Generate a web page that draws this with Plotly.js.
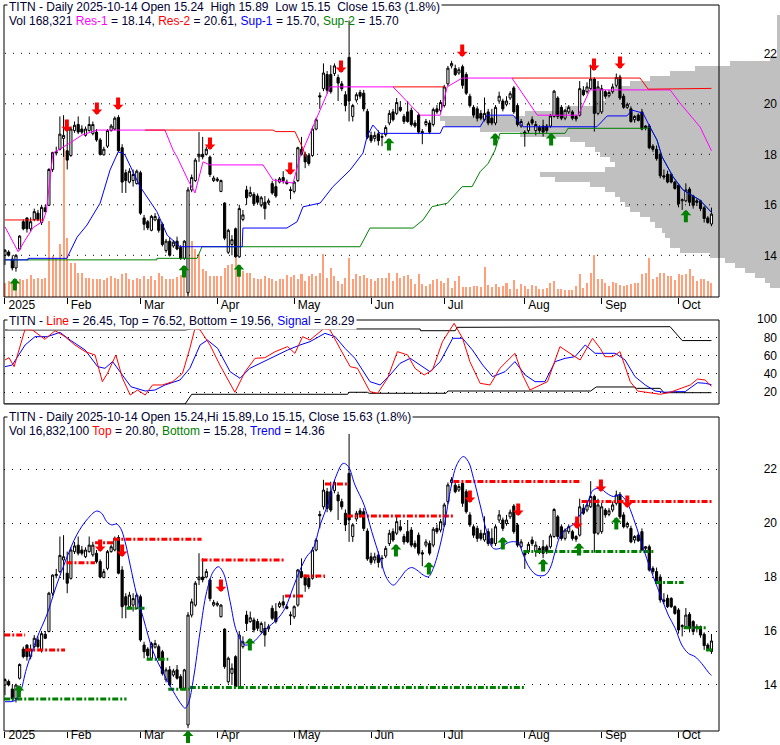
<!DOCTYPE html>
<html><head><meta charset="utf-8">
<script src="https://cdn.plot.ly/plotly-3.0.1.min.js"></script>
<style>html,body{margin:0;padding:0;background:#fff;}#chart{width:780px;height:745px;}</style>
</head><body><div id="chart"></div>
<script>
// ---------- DATA ----------
const monthTickIdx = [0,17,37,58,79,100,120,142,163,184];
const monthTickText = ['2025','Feb','Mar','Apr','May','Jun','Jul','Aug','Sep','Oct'];

const openP = [14.00,14.13,13.85,13.50,14.25,15.33,15.48,15.05,15.42,15.67,
15.30,15.88,15.98,17.40,18.05,18.20,18.63,18.14,17.95,18.94,
19.18,19.00,18.75,18.94,18.82,18.88,18.57,17.98,18.32,18.94,
19.00,19.46,18.26,17.27,16.90,16.96,16.84,17.27,15.48,15.33,
14.99,15.40,15.42,15.23,14.19,14.56,14.37,14.56,14.31,13.88,
12.52,16.59,16.96,17.90,18.00,18.00,17.89,16.96,16.96,16.53,
16.07,14.12,14.43,15.05,13.94,15.42,16.59,16.35,16.41,16.35,
15.98,16.10,16.08,16.84,16.72,16.90,17.08,16.90,16.60,16.53,
16.96,18.20,18.00,17.95,17.95,19.00,20.32,20.60,21.16,21.16,
21.20,21.04,20.79,20.36,21.84,19.50,20.15,20.45,20.42,19.70,
18.75,18.63,18.81,18.70,18.78,19.24,19.68,19.62,19.86,19.50,
19.68,19.74,19.24,19.55,18.90,19.18,19.24,19.18,19.80,19.74,
19.93,20.79,21.50,21.40,21.22,21.47,21.16,20.30,19.86,19.80,
19.62,19.37,19.68,19.43,19.24,20.11,20.11,19.98,20.23,20.63,
19.93,19.12,18.88,18.94,19.37,18.94,19.06,19.12,19.12,19.12,
19.50,20.23,19.86,19.43,19.68,19.68,19.50,19.55,20.54,20.48,
20.60,20.98,19.62,19.68,20.48,20.32,20.48,20.73,21.06,20.30,
19.86,19.80,19.37,19.55,19.68,19.06,19.12,18.32,18.20,18.00,
17.15,17.21,17.21,16.90,16.78,16.16,16.16,16.62,16.35,16.16,
16.16,15.88,15.48,15.24];
const highP = [14.25,14.20,14.00,14.05,14.80,15.42,15.50,15.50,15.85,15.80,
16.00,16.00,17.45,18.10,18.30,19.50,19.55,18.94,19.10,19.30,
19.50,19.15,19.10,19.50,19.30,19.00,18.65,18.30,19.00,19.20,
19.50,19.55,18.40,17.40,17.45,17.40,17.40,17.35,15.60,15.40,
15.60,15.67,15.50,15.30,14.65,14.70,14.60,14.74,14.40,14.60,
16.70,17.20,17.85,18.88,18.69,18.30,17.95,17.15,17.10,17.00,
16.10,15.05,14.80,15.10,16.00,15.80,16.75,16.72,16.50,16.45,
16.35,16.35,16.25,16.95,17.03,17.10,17.33,17.00,16.72,16.95,
18.30,18.69,18.10,18.05,19.10,19.45,20.45,21.60,21.30,21.53,
21.60,21.16,20.90,20.50,23.30,20.00,20.45,20.55,20.55,19.80,
18.90,18.90,18.95,18.81,19.15,19.75,19.80,20.23,20.11,19.60,
20.11,19.85,19.35,19.65,19.00,19.40,19.35,19.85,19.95,20.15,
20.75,21.50,21.70,21.55,21.45,21.55,21.25,20.40,19.95,19.90,
19.75,20.25,19.80,19.80,19.95,20.48,20.20,20.30,20.50,20.70,
20.00,19.40,18.95,19.30,19.50,19.32,19.15,19.37,19.20,19.60,
20.55,20.30,19.95,19.80,19.95,19.75,19.55,20.90,20.70,20.85,
21.55,21.05,20.90,20.75,20.55,20.55,20.80,21.20,21.15,20.40,
20.05,19.90,19.55,19.62,19.80,19.15,19.20,18.40,18.35,18.10,
17.40,17.35,17.25,16.95,16.85,16.25,16.85,16.70,16.40,16.25,
16.20,15.95,15.55,15.89];
const lowP = [13.62,13.95,13.40,13.35,14.20,14.99,14.90,14.95,15.35,15.35,
15.20,15.70,15.95,17.30,17.95,18.15,17.90,17.40,17.90,18.85,
18.80,18.80,18.70,18.90,18.75,18.50,17.95,17.95,18.25,18.90,
18.95,18.10,16.47,16.47,16.85,16.72,16.80,15.60,14.99,15.00,
14.95,15.35,14.90,14.35,14.10,13.95,14.30,14.20,13.82,13.82,
12.40,16.50,16.90,17.70,17.80,17.95,17.10,16.90,16.90,16.50,
14.60,14.05,14.00,13.90,13.90,15.35,16.00,16.30,15.95,16.00,
15.90,15.42,16.00,16.40,16.28,16.85,16.84,16.80,16.22,16.45,
16.90,17.95,17.45,17.55,17.90,18.95,19.80,20.50,20.40,20.40,
21.10,20.11,20.50,19.70,19.30,19.30,20.05,20.20,19.70,18.60,
18.45,18.50,18.35,18.32,18.70,19.15,19.30,19.55,19.68,19.20,
19.25,19.10,19.05,18.80,18.40,19.10,18.80,19.10,19.60,19.65,
19.85,20.70,21.40,21.10,21.15,20.60,20.35,19.85,19.45,19.30,
19.35,19.30,19.15,19.15,19.15,20.00,19.70,19.90,20.15,19.60,
19.10,19.05,18.30,18.85,19.15,18.75,18.85,18.70,18.85,19.05,
19.45,19.40,19.35,19.35,19.60,19.35,19.30,19.50,20.30,20.40,
20.55,18.90,19.55,19.60,20.20,20.25,20.40,20.65,20.15,19.80,
19.80,19.25,19.25,19.30,18.95,18.95,18.20,18.10,17.75,17.05,
17.00,16.85,16.85,16.60,15.90,15.80,16.10,15.95,15.85,15.95,
15.75,15.30,15.25,15.15];
const closeP = [14.20,14.00,13.50,14.00,14.76,15.05,15.05,15.33,15.73,15.42,
15.90,15.73,17.40,18.07,18.10,18.80,18.75,17.77,19.00,19.15,
18.88,18.88,19.00,19.18,19.18,18.57,18.00,18.20,18.94,19.12,
19.43,18.14,16.90,16.96,17.33,17.20,17.33,15.67,15.23,15.09,
15.54,15.54,14.99,14.43,14.56,14.00,14.52,14.25,13.88,14.56,
16.59,17.08,17.77,18.00,17.90,18.20,17.20,17.06,17.02,16.96,
14.68,14.99,14.62,13.94,15.85,15.60,16.28,16.49,16.04,16.10,
16.28,15.85,16.16,16.47,16.35,17.03,16.96,16.84,16.57,16.90,
18.26,18.00,17.70,17.64,19.00,19.37,20.27,21.22,20.54,20.48,
21.50,20.82,20.60,19.93,20.11,19.93,20.36,20.30,19.80,18.67,
18.54,18.75,18.54,18.68,19.06,19.62,19.37,20.05,19.74,19.30,
19.30,19.18,19.12,18.88,18.85,19.30,18.88,19.77,19.68,20.05,
20.67,21.41,21.60,21.16,21.35,20.73,20.42,19.93,19.55,19.43,
19.43,19.62,19.24,19.24,19.86,20.30,19.80,20.11,20.40,19.68,
19.18,19.30,18.82,19.21,19.24,19.18,18.94,18.88,18.94,19.52,
20.50,19.50,19.43,19.74,19.86,19.43,19.40,20.60,20.36,20.67,
20.98,19.62,20.67,20.60,20.30,20.45,20.67,21.04,20.23,19.86,
19.98,19.30,19.50,19.34,19.00,19.12,18.26,18.20,17.83,17.15,
17.10,16.90,16.90,16.65,16.04,16.20,16.59,16.10,15.98,16.10,
15.85,15.46,15.30,15.63];
const volumeK = [172,192,172,172,212,204,220,260,212,232,
212,232,912,492,472,632,1780,712,412,412,
284,292,232,232,212,212,212,204,232,252,
232,220,272,284,212,204,232,220,252,220,
252,204,284,252,212,212,220,240,260,252,
672,672,572,512,340,312,252,252,252,252,
352,380,392,472,352,312,292,284,232,220,
220,252,232,212,192,212,212,260,244,260,
220,272,192,252,272,252,284,512,232,352,
252,192,152,232,472,212,272,252,260,232,
220,192,232,232,232,292,192,284,232,252,
260,212,152,272,152,132,152,204,212,192,
172,224,112,192,252,124,124,124,132,132,
124,364,144,124,152,124,132,172,100,204,
92,152,132,100,140,132,100,100,112,172,
192,100,100,84,84,84,132,272,112,172,
284,500,220,212,172,132,184,164,140,132,
140,160,164,164,272,284,472,220,240,292,
284,252,252,204,272,260,272,332,252,192,
220,212,192,168];

// volume-at-price profile (top panel)
const profilePrice = [12.8,13.0,13.2,13.4,13.6,13.8,14.0,14.2,14.4,14.6,14.8,15.0,15.2,15.4,15.6,15.8,16.0,16.2,16.4,16.6,16.8,17.0,17.2,17.4,17.6,17.8,18.0,18.2,18.4,18.6,18.8,19.0,19.2,19.4,19.6,19.8,20.0,20.2,20.4,20.6,20.8,21.0,21.2,21.4,21.6,21.8,22.0,22.2,22.4,22.6,22.8,23.0,23.2,23.4];
const profileVol = [10,15,25,35,45,55,70,100,110,110,115,118,125,130,140,150,155,160,165,175,190,225,240,175,165,170,180,185,195,210,260,300,335,340,255,215,185,175,170,165,150,130,110,85,50,10,3,3,3,3,3,3,3,3];

// top panel support / resistance
const res1X = [0,3.6,5.5,7.7,10.4,11.3,12.2,13.1,17.8,21,25.1,43.7,45.9,47,50,51.9,54.1,56,70.5,73.2,78.7,80.6,88.8,106,113.4,118.9,120.8,124.9,138.5,145.4,156.6,159.8,181.7,184.4,189.9,193];
const res1Y = [15.13,14.14,14.6,15.1,15.35,15.75,16.9,18.05,18.45,18.76,18.96,18.96,18.17,17.9,16.98,16.47,17.7,17.58,17.58,16.98,16.86,17.9,20.67,20.67,19.55,19.55,20.67,21.02,21.02,19.55,19.55,20.55,20.55,20.03,19.08,18.14];
const res2X = [0,10.4,null,38.3,73.2,74,79.2,81.2,82.2,null,106,120.2,null,138.5,173.5,175.7,193];
const res2Y = [15.4,15.4,null,18.96,18.96,18.9,18.9,18.29,17.9,null,20.67,20.67,null,21.02,21.02,20.58,20.61];
const sup1X = [0,6.3,6.3,16.9,19.7,22.4,26,28.7,30.9,32.2,32.8,36.9,41.5,44.3,47.8,64.8,65,77,79.8,81.4,86.1,89.6,94.3,97.8,98.9,100.5,102.5,118.9,119.7,129.8,131.7,138.8,141.5,161.7,164.5,169.9,171.3,174.3,176.2,178.1,179.5,182.5,185.2,189.8,193];
const sup1Y = [13.82,13.82,13.88,13.88,14.72,15.2,16.07,17.38,18.09,18.05,17.97,16.72,15.73,14.8,14.34,14.34,15.08,15.08,15.33,15.92,16.07,16.72,17.38,18.05,18.7,19.16,18.83,18.83,19.09,19.09,19.55,19.55,19.09,19.09,19.52,19.52,19.75,19.63,19.08,18.57,17.9,17.11,16.59,16.19,15.70];
const sup2X = [0,41.5,41.5,52.5,53.8,97,99.7,111.5,114.2,116.7,120.8,124.9,127.6,129.8,132,133.9,135.2,153,153.8,175.4,176.2,178.1,179.5,182.5,185.2,189.8,193];
const sup2Y = [13.82,13.82,13.88,13.88,14.34,14.34,15.08,15.08,15.4,15.93,16.06,16.72,16.72,17.31,17.64,18.17,18.83,18.83,19.03,19.03,19.08,18.57,17.9,17.11,16.59,16.19,15.70];
const topDownX = [16.9,25.1,30.9,56,77.9,91.8,124.9,160.9,168];
const topDownY = [18.88,19.56,19.75,18.17,17.18,21.22,21.85,21.3,21.38];
const topUpX = [2.7,48.9,63.9,104.9,133.9,149.2,186];
const topUpY = [13.1,13.62,13.65,18.65,18.84,18.84,15.8];

// middle panel oscillator
const oscLineX = [0,1.1,2.5,5.5,7.5,10.9,13.7,16.4,19.1,21.9,24.6,26.6,28,30.3,32.1,34.2,36.2,38.3,40.3,43,45.8,48.5,50.5,51.9,53.3,56,58.7,62.8,65.6,68.3,71,73.8,77.2,79.2,81.3,83.3,87.2,88.8,91.5,94.3,96.3,99.7,101.8,104.5,107.2,110,112,114.5,116.8,119.5,122.7,125,127,129.8,132.5,135.2,139.3,141.4,143.4,145.5,148.2,151.6,155,157.1,160.5,162.6,163.9,166,168,170.8,172.8,175.5,179,181.7,184.4,187.2,189.2,191.3,193];
const oscLineY = [55.3,57.8,48,89.2,88.1,77.9,87.3,80.8,71.7,64.4,60.8,31.6,40.7,60.8,35.3,17,22.5,17,28,28,31.6,40.7,68,89.9,88.1,71.7,49.8,20,42.5,57.1,57.8,64.4,69.9,62.6,80.8,77.1,89.9,88.1,68,48,46.2,20.7,18.9,35.3,64.4,60.8,46.2,38.9,44.4,75.3,95.4,79,53.5,29.8,28,46.2,62.6,38.9,22.5,26.1,31.6,69.9,60.8,55.3,79,68,58.9,58.9,64.4,31.6,21.4,20,17.8,20,24.3,28,34.5,33.4,26.45];
const oscSigX = [0,2,5.5,8.2,11.6,15,17.8,21.9,25.3,27.3,29.4,31.4,34.4,38.3,41,43.7,47.8,50.5,53.3,55.3,58.1,61.5,64.2,66.9,69.7,73.1,77.2,80.6,83.3,87.4,90.2,92.9,95.6,99.7,102.5,105.2,107.9,110.7,114.1,116.1,118.9,122.3,125,127.7,130.5,133.2,136.6,139.3,142.1,144.8,147.5,150.3,153,155.7,158.5,161.2,166.7,169.4,172.1,174.9,177.6,180.3,183.1,185.8,189.2,191.3,193];
const oscSigY = [48,49.8,71.7,80.8,80.8,85.5,77.1,66.2,48,46.2,53.5,42.5,26.1,21.4,22.5,28,33.4,46.2,71.7,77.1,68,42.5,35.3,46.2,51.6,58.9,66.2,71.7,75.3,84.4,80.8,68,57.1,31.6,28,38.9,51.6,57.1,48,42.5,53.5,79,79,66.2,49.8,37.1,42.5,53.5,38.9,31.6,31.6,53.5,57.1,58.9,71.7,62.6,62.6,55.3,37.1,28,21.4,20,20.7,20.7,30.5,29.8,28.29];
const oscTopX = [0,49.2,51,113.4,113.5,123,123.5,161,161.5,181.7,185,193];
const oscTopY = [88.1,88.1,89.2,89.2,87.3,87.3,91,91,91.7,91.7,76.52,76.52];
const oscBotX = [0,49.2,51,93.6,94,99,99.5,120.5,121,160,161.5,172,172.5,179,180,193];
const oscBotY = [7.2,7.2,17.8,17.8,20,20,18.9,18.9,21.4,21.4,25.8,25.8,24.3,24.3,19.56,19.56];

// bottom panel
const trendX = [0,2.7,4.1,5.9,8.7,11.4,14.1,16.8,19.6,22.3,25,26.4,27.8,29.1,30.5,31.6,32.8,34.2,36,37.8,40.5,43.3,46,48.3,49.2,50.1,51.5,53.3,55.1,56.9,58.3,59.7,61.5,63.3,65.6,67.9,69.7,71.5,74.2,76.5,78.8,80.6,82.4,84.2,86.1,88.3,90.2,92.4,93.8,95.6,98.1,100.2,102.5,104.3,106.1,107.9,109.7,111.1,112.5,114.3,115.7,117,118.9,120.2,121.6,123.4,125.2,126.6,128,129.8,131.6,133.4,135.2,137.1,138.9,140.3,141.6,143.4,145.3,147.5,148.9,150.3,151.6,153.5,155.3,157.1,158.9,160.7,162.6,164.4,166.2,168,169.8,171.7,173.5,175.3,177.1,179.4,181.2,183.1,184.9,186.7,188.5,190.3,192.6,193];
const trendY = [13.38,13.42,13.7,14.62,15.73,16.59,17.7,18.69,19.56,20.11,20.44,20.36,20.05,19.93,19.96,19.8,19.31,18.44,17.33,16.47,15.23,14.43,13.75,13.26,13.14,13.32,14.25,15.98,17.46,18.2,18.38,18.14,17.09,15.98,15.48,15.6,15.85,16.1,16.41,16.84,17.64,18.26,18.75,19.06,19.93,20.73,21.65,22.21,22.09,21.41,20.67,19.68,18.69,17.95,17.7,17.95,18.26,18.35,18.26,18.07,18.01,18.32,19.19,20.05,21.16,22.15,22.46,22.27,21.65,20.67,19.68,19.06,19.06,19.25,19.31,19.25,18.81,18.32,18.07,18.07,18.32,18.94,19.49,19.8,19.95,20.3,20.67,21.22,21.28,21.1,20.98,21.04,20.79,20.17,19.43,18.69,18.01,17.21,16.59,16.1,15.48,15.17,15.05,14.8,14.4,14.36];
const topSegStart = [-0.2,5.5,16.8,24.6,29.6,53.7,76.5,81.5,87.4,93.4,122.5,157.5];
const topSegEnd   = [5.5,16.4,24.6,29.6,53.7,76.5,81.5,87.4,93.4,122.5,157.5,193.5];
const topSegLevel = [15.85,15.3,18.53,19.27,19.4,18.63,17.3,18.04,21.44,20.26,21.54,20.8];
const botSegStart = [-0.2,33.2,38.7,44.6,50.5,141.6,177.6,185.4,191.5];
const botSegEnd   = [33.2,38.7,44.6,50.5,142.3,177.6,185.4,191.5,193.3];
const botSegLevel = [13.48,16.84,14.95,13.84,13.91,18.94,17.8,16.12,15.3];
const botDownX = [26,32,59,127,140.2,156.3,162.8,170];
const botDownY = [18.93,18.74,17.44,20.74,20.26,19.78,21.15,20.56];
const botUpX = [3.8,50,66.9,106.8,115.8,136,147,156.8,167];
const botUpY = [14.0,12.31,15.74,19.22,18.56,19.48,18.67,19.26,20.22];

// ---------- BUILD ----------
const W = 780, H = 745;
const fx = p => p / W;          // paper fraction from pixel x
const fy = p => 1 - p / H;      // paper fraction from pixel y
const dayIdx = closeP.map((_, k) => k);
const FONT = 'Liberation Sans, Arial, sans-serif';
const TXT = '#000033';

function segs(st, en, lv) {
  const x = [], y = [];
  st.forEach((s, k) => { x.push(s, en[k], null); y.push(lv[k], lv[k], null); });
  return {x, y};
}
function line(x, y, color, xa, ya, extra) {
  return Object.assign({type:'scatter', mode:'lines', x, y, xaxis:xa, yaxis:ya,
    line:{color, width:1}, hoverinfo:'skip', connectgaps:false}, extra || {});
}
function candles(xa, ya) {
  return {type:'candlestick', x:dayIdx, open:openP, high:highP, low:lowP, close:closeP,
    xaxis:xa, yaxis:ya, whiskerwidth:0, hoverinfo:'skip',
    increasing:{line:{color:'#000', width:1}, fillcolor:'#ffffff'},
    decreasing:{line:{color:'#000', width:1}, fillcolor:'#000000'}};
}
const ts = segs(topSegStart, topSegEnd, topSegLevel);
const bs = segs(botSegStart, botSegEnd, botSegLevel);
const dashDot = '6px,2px,2px,2px';

const traces = [
  {type:'bar', orientation:'h', x:profileVol, y:profilePrice, width:0.2, xaxis:'x', yaxis:'y',
   marker:{color:'#c0c0c0', line:{width:0}}, hoverinfo:'skip'},
  {type:'bar', x:dayIdx, y:volumeK, width:0.55, xaxis:'x2', yaxis:'y2',
   marker:{color:'#ffa07a', line:{width:0}}, hoverinfo:'skip'},
  candles('x2','y3'),
  line(sup2X, sup2Y, '#008000', 'x2','y3'),
  line(sup1X, sup1Y, '#0000ff', 'x2','y3'),
  line(res1X, res1Y, '#ff00ff', 'x2','y3'),
  line(res2X, res2Y, '#ff0000', 'x2','y3'),
  line(oscTopX, oscTopY, '#000000', 'x3','y4'),
  line(oscBotX, oscBotY, '#000000', 'x3','y4'),
  line(oscSigX, oscSigY, '#0000ff', 'x3','y4'),
  line(oscLineX, oscLineY, '#ff0000', 'x3','y4'),
  candles('x4','y5'),
  line(ts.x, ts.y, '#ff0000', 'x4','y5', {line:{color:'#ff0000', width:3, dash:dashDot}}),
  line(bs.x, bs.y, '#008000', 'x4','y5', {line:{color:'#008000', width:3, dash:dashDot}}),
  line(trendX, trendY, '#0000ff', 'x4','y5', {line:{color:'#0000ff', width:1, shape:'spline'}})
];

const xTop = [-0.27, -0.27 + 776/3.6606];
const xLow = [-0.27, -0.27 + 715/3.6606];
const tickFont = {family:FONT, size:12, color:'#000'};
const dateAxis = (anchor, standoff, extra) => Object.assign({anchor, range:xLow, tickmode:'array',
  tickvals:monthTickIdx, ticktext:monthTickText, ticks:'outside', ticklen:6, tickwidth:1,
  tickcolor:'#000', ticklabelposition:'outside right', ticklabelshift:3, ticklabelstandoff:standoff,
  showgrid:false, zeroline:false, showline:false, tickfont:tickFont, rangeslider:{visible:false},
  fixedrange:true}, extra || {});
const priceAxis = (domain, range, vals, grid) => ({domain, range, anchor:'free', position:1,
  side:'left', tickmode:'array', tickvals:vals, ticks:'', showline:false, zeroline:false,
  showgrid:grid, gridcolor:'#000', gridwidth:1, griddash:'1px,7px', tickfont:tickFont,
  ticklabelstandoff:3, fixedrange:true});

const topDom = [fy(297), fy(5)];
const midDom = [fy(404), fy(319)];
const botDom = [fy(731), fy(417)];
const topRange = [12.349, 23.913];
const botRange = [12.296, 23.926];
const pVals = [14,16,18,20,22];

const layout = {
  width:W, height:H, margin:{l:0,r:0,t:0,b:0}, paper_bgcolor:'#fff', plot_bgcolor:'rgba(0,0,0,0)',
  showlegend:false, font:{family:FONT, size:12, color:TXT}, bargap:0, boxgap:0.16,
  xaxis:{domain:[fx(4),1], range:[776,0], anchor:'y', visible:false, fixedrange:true},
  xaxis2:dateAxis('y', -3, {overlaying:'x', range:xTop}),
  yaxis:priceAxis(topDom, topRange, pVals, false),
  yaxis2:{overlaying:'y', range:[0,3504], visible:false, fixedrange:true},
  yaxis3:{overlaying:'y', range:topRange, visible:false, fixedrange:true},
  xaxis3:{domain:[fx(4),fx(719)], range:xLow, anchor:'y4', showticklabels:false, ticks:'',
    showgrid:false, zeroline:false, showline:false, fixedrange:true},
  yaxis4:priceAxis(midDom, [7.2,100.1], [20,40,60,80,100], true),
  xaxis4:dateAxis('y5', -7, {domain:[fx(4),fx(719)]}),
  yaxis5:priceAxis(botDom, botRange, pVals, true),
  shapes:[], annotations:[]
};

// panel frames
[[5,297],[320,404],[417,731]].forEach(([t,b]) => layout.shapes.push({type:'rect', xref:'paper', yref:'paper',
  x0:fx(4), x1:fx(719), y0:fy(b), y1:fy(t), line:{color:'#000', width:1}, fillcolor:'rgba(0,0,0,0)', layer:'above'}));
// top panel dotted grid (drawn over volume profile)
pVals.forEach(v => layout.shapes.push({type:'line', xref:'paper', yref:'y', x0:fx(5), x1:fx(716), y0:v, y1:v,
  line:{color:'#000', width:1, dash:'1px,7px'}, layer:'above'}));

// titles
function note(text, ypx, bg) {
  layout.annotations.push({xref:'paper', yref:'paper', x:fx(7), y:fy(ypx), xanchor:'left', yanchor:'middle',
    text, showarrow:false, font:{family:FONT, size:12, color:TXT}, bgcolor:bg ? '#ffffff' : 'rgba(0,0,0,0)', borderpad:1});
}
const c = (col, s) => '<span style="color:' + col + '">' + s + '</span>';
note('TITN - Daily 2025-10-14 Open 15.24 \u00a0High 15.89 \u00a0Low 15.15 \u00a0Close 15.63 (1.8%)', 7, true);
note('Vol 168,321 ' + c('#ff00ff','Res-1') + ' = 18.14, ' + c('#ff0000','Res-2') + ' = 20.61, ' +
     c('#0000ff','Sup-1') + ' = 15.70, ' + c('#008000','Sup-2') + ' = 15.70', 21, false);
note('TITN - ' + c('#ff0000','Line') + ' = 26.45, Top = 76.52, Bottom = 19.56, ' + c('#0000ff','Signal') + ' = 28.29', 321, true);
note('TITN - Daily 2025-10-14 Open 15.24,Hi 15.89,Lo 15.15, Close 15.63 (1.8%)', 417, true);
note('Vol 16,832,100 ' + c('#ff0000','Top') + ' = 20.80, ' + c('#008000','Bottom') + ' = 15.28, ' +
     c('#0000ff','Trend') + ' = 14.36', 431, false);

// signal arrows
function arrows(xs, ys, xa, ya, down) {
  xs.forEach((x, k) => layout.annotations.push({x, y:ys[k], xref:xa, yref:ya, text:'', showarrow:true,
    ax:0, ay: down ? -14 : 14, arrowhead:1, arrowsize:0.45, arrowwidth:4, standoff:0,
    arrowcolor: down ? '#ff0000' : '#008000'}));
}
arrows(topDownX, topDownY, 'x2', 'y3', true);
arrows(topUpX, topUpY, 'x2', 'y3', false);
arrows(botDownX, botDownY, 'x4', 'y5', true);
arrows(botUpX, botUpY, 'x4', 'y5', false);

Plotly.newPlot('chart', traces, layout, {displayModeBar:false, staticPlot:true});
</script></body></html>
